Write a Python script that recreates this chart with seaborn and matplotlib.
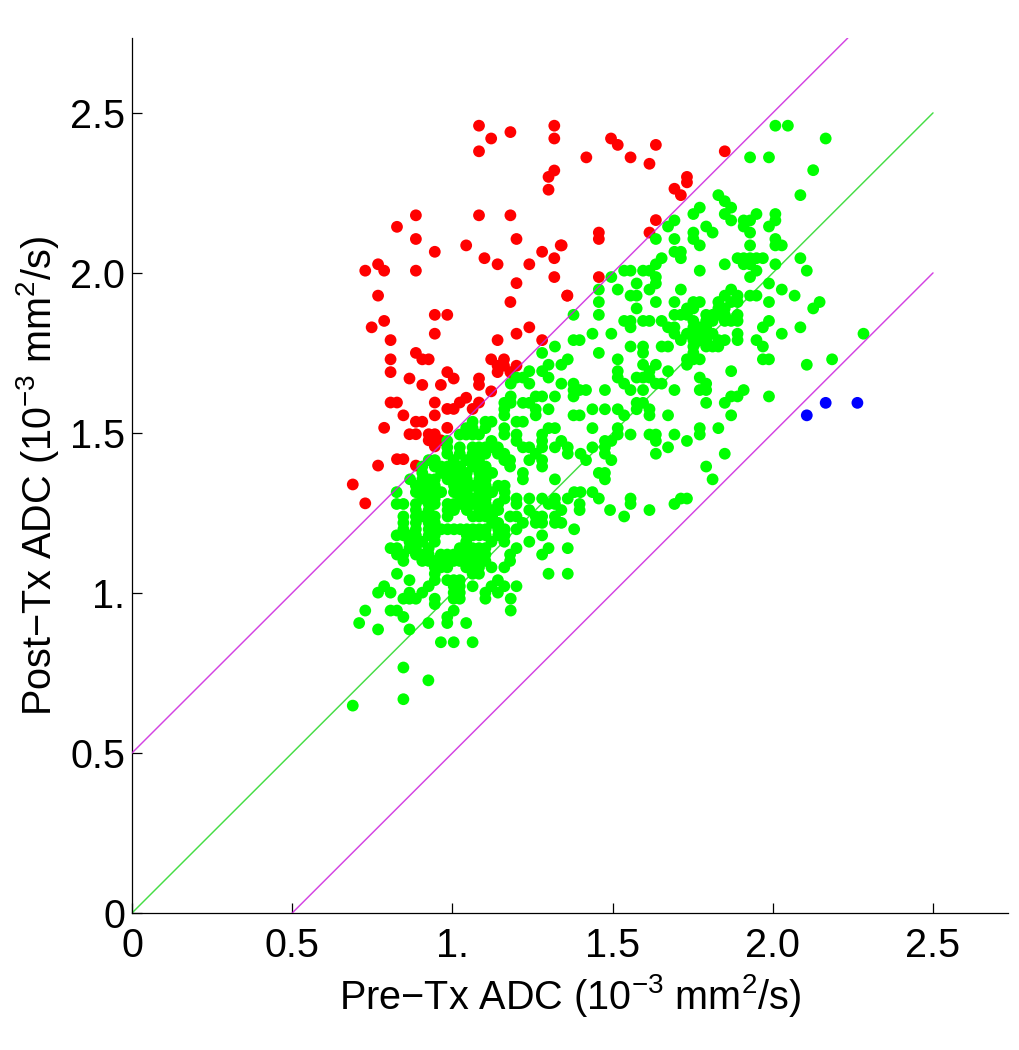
import matplotlib
matplotlib.use("Agg")
import matplotlib.pyplot as plt
import pandas as pd
import seaborn as sns

# Values (unit: 10^-3 mm^2/s)
red_x = [1.083,1.121,1.181,1.318,1.318,1.083,1.318,1.30,1.30,0.886,1.083,1.181,0.827,0.886,1.20,0.945,1.043,1.338,1.28,1.318,1.10,1.141,1.24,0.728,0.768,0.787,0.886,1.318,1.20,0.768,1.181,1.358,0.945,0.984,0.787,0.748,0.945,1.20,1.24,0.807,1.141,1.28,
         0.886,0.807,0.906,0.926,1.121,1.161,1.141,1.161,1.20,0.807,1.141,1.181,0.984,1.004,0.866,1.083,1.083,0.906,0.964,1.121,1.043,1.023,1.083,0.807,0.827,0.945,0.984,1.004,1.063,0.847,0.945,0.886,0.906,0.787,0.984,0.866,0.886,0.926,0.945,0.964,0.926,0.945,0.945,0.827,0.847,0.768,0.886,0.689,0.728,
         1.495,1.516,1.635,1.418,1.556,1.615,1.85,1.732,1.732,1.693,1.713,1.635,1.615,1.457,1.457,1.341,1.457,1.359]
red_y = [2.46,2.42,2.44,2.46,2.42,2.38,2.32,2.30,2.26,2.18,2.18,2.18,2.144,2.106,2.106,2.066,2.086,2.086,2.066,2.046,2.046,2.027,2.027,2.007,2.027,2.007,2.007,1.987,1.968,1.929,1.909,1.929,1.869,1.869,1.85,1.83,1.81,1.81,1.83,1.79,1.79,1.79,
         1.75,1.73,1.73,1.73,1.73,1.73,1.71,1.71,1.71,1.69,1.69,1.69,1.69,1.67,1.67,1.67,1.65,1.65,1.65,1.63,1.61,1.595,1.595,1.595,1.595,1.595,1.575,1.575,1.575,1.555,1.555,1.535,1.535,1.516,1.516,1.496,1.496,1.496,1.496,1.477,1.477,1.477,1.458,1.418,1.418,1.398,1.398,1.339,1.28,
         2.42,2.40,2.40,2.361,2.361,2.341,2.38,2.30,2.283,2.263,2.243,2.165,2.126,2.126,2.106,2.086,1.987,1.929]

blue_x = [2.106, 2.165, 2.264]
blue_y = [1.555, 1.594, 1.594]

green_row_y = [2.46,2.42,2.361,2.321,2.243,2.224,2.204,2.184,2.164,2.145,2.126,2.106,2.086,2.066,2.046,2.027,2.007,1.987,1.967,1.948,1.929,1.909,1.889,1.869,1.85,1.83,1.81,1.79,1.77,1.75,1.73,1.713,1.693,1.673,1.654,1.634,1.614,1.594,1.574,1.555,1.535,1.515,1.495,1.475,
               1.455,1.435,1.415,1.395,1.375,1.355,1.335,1.315,1.295,1.278,1.259,1.239,1.219,1.199,1.18,1.16,1.14,1.12,1.10,1.08,1.06,1.04,1.021,1.001,0.982,0.965,0.945,0.925,0.906,0.886,0.846,0.767,0.727,0.668,0.648]
green_row_x = [
 [2.008,2.047],[2.165],[1.929,1.988],[2.126],[1.83,2.086],[1.85],[1.772,1.87],[1.752,1.85,1.949,2.008],
 [1.693,1.87,1.909,1.929,2.008],[1.673,1.792,1.909,1.988],[1.752,1.812,1.929],[1.635,1.693,1.752,2.008],
 [1.772,1.929,2.008,2.028],[1.693,1.713],[1.653,1.713,1.89,1.909,1.929,1.949,1.969,2.086],[1.635,1.85,1.909,1.929,2.008],
 [1.536,1.556,1.595,1.615,1.772,1.949,2.106],[1.496,1.635,1.929],[1.575,1.635,1.988],[1.457,1.516,1.615,1.713,1.87,2.028],
 [1.556,1.575,1.85,1.89,1.929,1.949,2.068],[1.457,1.635,1.693,1.752,1.772,1.83,1.87,1.89,1.988,2.146],[1.575,1.732,1.752,1.83,1.85,2.126],
 [1.378,1.457,1.693,1.713,1.732,1.792,1.812,1.83,1.85,1.89],[1.536,1.556,1.595,1.615,1.653,1.752,1.792,1.812,1.85,1.87,1.89,1.988],
 [1.556,1.673,1.693,1.752,1.772,1.792,1.969,2.086],[1.437,1.496,1.693,1.732,1.752,1.772,1.792,1.812,1.89,2.028,2.283],
 [1.378,1.397,1.713,1.752,1.772,1.792,1.83,1.85,1.89,1.949],[1.32,1.556,1.595,1.653,1.673,1.752,1.792,1.812,1.83,1.969],[1.28,1.457,1.595,1.752],
 [1.36,1.516,1.732,1.752,1.772,1.969,1.988,2.185],[1.30,1.34,1.595,1.635,1.732,2.106],[1.24,1.28,1.516,1.615,1.673,1.87],
 [1.2,1.22,1.30,1.516,1.575,1.595,1.615,1.772],[1.182,1.24,1.34,1.378,1.536,1.635,1.653,1.792],[1.378,1.397,1.417,1.476,1.556,1.595,1.693,1.772,1.792,1.909],
 [1.182,1.26,1.28,1.32,1.378,1.87,1.89,1.988],[1.162,1.182,1.22,1.24,1.575,1.595,1.792,1.85],[1.162,1.26,1.30,1.437,1.476,1.516,1.575,1.615],
 [1.162,1.26,1.378,1.397,1.536,1.615,1.673,1.87],[1.063,1.103,1.122,1.2,1.22],[1.043,1.063,1.103,1.162,1.30,1.32,1.437,1.516,1.772,1.83],
 [1.023,1.043,1.063,1.083,1.162,1.2,1.28,1.516,1.556,1.615,1.635,1.693,1.772],[0.984,1.122,1.2,1.28,1.34,1.476,1.496,1.635,1.732],
 [0.984,1.023,1.063,1.083,1.103,1.122,1.142,1.22,1.24,1.28,1.32,1.36,1.437,1.476,1.673],
 [0.984,1.023,1.063,1.083,1.103,1.142,1.162,1.26,1.36,1.40,1.476,1.635,1.85],
 [0.926,0.945,1.004,1.043,1.063,1.083,1.162,1.18,1.24,1.28,1.417,1.496],
 [0.906,0.945,0.965,0.985,1.005,1.025,1.064,1.084,1.104,1.18,1.28,1.792],
 [0.906,0.965,0.985,1.005,1.025,1.045,1.084,1.104,1.124,1.22,1.457,1.476],
 [0.868,0.906,0.926,0.945,0.985,1.005,1.025,1.045,1.084,1.104,1.22,1.32,1.476,1.812],
 [0.886,0.906,0.926,0.945,1.005,1.025,1.045,1.064,1.084,1.104,1.143,1.163],
 [0.826,0.886,0.906,0.926,0.945,0.965,1.005,1.025,1.045,1.084,1.104,1.124,1.163,1.38,1.40,1.437],
 [0.906,0.926,0.945,1.025,1.045,1.064,1.084,1.104,1.163,1.2,1.24,1.28,1.32,1.36,1.457,1.556,1.713,1.732],
 [0.826,0.847,0.886,0.926,0.945,0.985,1.005,1.025,1.045,1.064,1.084,1.104,1.143,1.2,1.30,1.32,1.397,1.556,1.693],
 [0.886,0.926,0.985,1.005,1.045,1.084,1.104,1.124,1.143,1.24,1.34,1.397,1.492,1.615],
 [0.847,0.886,0.906,0.926,0.945,0.985,1.064,1.084,1.104,1.124,1.18,1.2,1.26,1.28,1.32,1.536],
 [0.847,0.886,0.926,0.945,1.124,1.143,1.22,1.26,1.28,1.32,1.34],
 [0.847,0.886,0.926,0.945,0.965,0.985,1.005,1.025,1.045,1.064,1.084,1.104,1.143,1.163,1.2,1.38],
 [0.826,0.847,0.868,0.886,0.926,0.945,1.045,1.064,1.084,1.104,1.143,1.163,1.28],
 [0.866,0.886,0.906,0.945,1.043,1.122,1.162,1.24],
 [0.807,0.827,0.866,0.886,0.926,1.023,1.043,1.063,1.083,1.103,1.2,1.30,1.36],
 [0.827,0.847,0.886,0.906,0.926,0.964,0.984,1.004,1.023,1.043,1.063,1.083,1.103,1.18,1.28],
 [0.847,0.906,0.926,0.945,0.964,0.984,1.004,1.023,1.043,1.063,1.083,1.103,1.18],
 [0.945,0.964,0.984,1.043,1.063,1.083,1.122,1.162],
 [0.827,0.945,1.063,1.083,1.30,1.36],
 [0.866,0.945,0.984,1.004,1.023,1.142],
 [0.787,0.926,1.004,1.023,1.063,1.122,1.162,1.2],
 [0.768,0.807,0.866,0.906,1.004,1.023,1.103,1.142],
 [0.847,0.866,0.886,0.945,1.004,1.023,1.103,1.182],
 [0.945],
 [0.728,0.807,0.827,1.004,1.182],
 [0.847,0.984],
 [0.709,0.925,0.984,1.043],
 [0.768,0.866],
 [0.964,1.004,1.063],
 [0.847],[0.925],[0.847],[0.689],
]
tick_values = [0, 0.5, 1.0, 1.5, 2.0, 2.5]
tick_labels = ["0", "0.5", "1.", "1.5", "2.0", "2.5"]
axis_max = 2.734
identity_x = [0, 2.5]
identity_y = [0, 2.5]
upper_x = [0, 2.234]
upper_y = [0.5, 2.734]
lower_x = [0.5, 2.5]
lower_y = [0, 2.0]

green_x = [x for row in green_row_x for x in row]
green_y = [y for y, row in zip(green_row_y, green_row_x) for _ in row]
points = pd.DataFrame({
    "pre": red_x + green_x + blue_x,
    "post": red_y + green_y + blue_y,
    "group": ["up"] * len(red_x) + ["same"] * len(green_x) + ["down"] * len(blue_x),
})

sns.set_style("ticks")
plt.rcParams["font.family"] = ["Liberation Sans", "DejaVu Sans"]
plt.rcParams["mathtext.fontset"] = "custom"
plt.rcParams["mathtext.rm"] = "Liberation Sans"
plt.rcParams["mathtext.default"] = "regular"
plt.rcParams["text.color"] = "black"
plt.rcParams["axes.labelcolor"] = "black"
plt.rcParams["xtick.labelcolor"] = "black"
plt.rcParams["ytick.labelcolor"] = "black"

fig = plt.figure(figsize=(10.19, 10.5), dpi=100)
ax = fig.add_axes([132 / 1019, (1050 - 913) / 1050, 876 / 1019, 875 / 1050])
sns.scatterplot(data=points, x="pre", y="post", hue="group", legend=False,
                palette={"up": "#ff0000", "same": "#00ff00", "down": "#0000ff"},
                s=72, linewidth=0, ax=ax, zorder=2, clip_on=False)
sns.lineplot(x=identity_x, y=identity_y, color="#45dd45", lw=1.05, ax=ax, zorder=1)
sns.lineplot(x=upper_x, y=upper_y, color="#cc22dd", lw=1.05, ax=ax, zorder=3, alpha=0.85)
sns.lineplot(x=lower_x, y=lower_y, color="#cc22dd", lw=1.05, ax=ax, zorder=3, alpha=0.85)

ax.set_xlim(0, axis_max)
ax.set_ylim(0, axis_max)
ax.set_xticks(tick_values, tick_labels)
ax.set_yticks(tick_values, tick_labels)
ax.tick_params(direction="in", length=7, width=0.9, labelsize=28.5, color="black", pad=5)
ax.tick_params(axis="x", pad=10)
for side in ("top", "right"):
    ax.spines[side].set_visible(False)
for side in ("left", "bottom"):
    ax.spines[side].set_linewidth(0.9)
    ax.spines[side].set_color("black")
ax.set_xlabel("Pre\u2212Tx ADC (10$^{-3}$ mm$^2$/s)", fontsize=28.5, labelpad=5)
ax.set_ylabel("Post\u2212Tx ADC (10$^{-3}$ mm$^2$/s)", fontsize=28.5, labelpad=6.5)
fig.savefig("out.png", dpi=100, facecolor="white")
